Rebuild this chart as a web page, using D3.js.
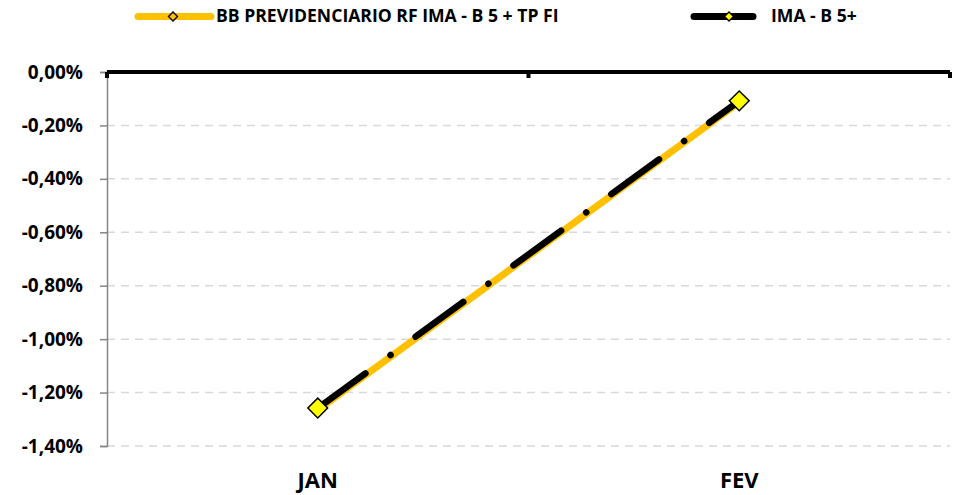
<!DOCTYPE html>
<meta charset="utf-8">
<script src="https://d3js.org/d3.v7.min.js"></script>
<style>
  body { margin: 0; background: #fff; }
  text { font-family: "Open Sans", sans-serif; font-weight: bold; fill: #000; }
</style>
<div id="chart"></div>
<script>
// data
var months = ["JAN", "FEV"];
var fundValues = [-1.265, -0.113];   // BB PREVIDENCIARIO RF IMA - B 5 + TP FI
var indexValues = [-1.258, -0.108];  // IMA - B 5+
var yTicks = [0, -0.2, -0.4, -0.6, -0.8, -1.0, -1.2, -1.4];
var seriesNames = ["BB PREVIDENCIARIO RF IMA - B 5 + TP FI", "IMA - B 5+"];

var W = 963, H = 495;
var margin = {top: 72, left: 107, right: 13, bottom: 49};
var width = W - margin.left - margin.right,
    height = H - margin.top - margin.bottom;

var svg = d3.select("#chart").append("svg")
    .attr("width", W).attr("height", H);
var g = svg.append("g")
    .attr("transform", "translate(" + margin.left + "," + margin.top + ")");

var x = d3.scaleBand().domain(months).range([0, width]);
var y = d3.scaleLinear().domain([-1.4, 0]).range([height, 0]);

var fmt = function(v){ return (v.toFixed(2) + "%").replace(".", ","); };

// gridlines
g.append("g").selectAll("line")
  .data(yTicks.filter(function(d){ return d !== 0; }))
  .enter().append("line")
    .attr("x1", 0).attr("x2", width)
    .attr("y1", function(d){ return y(d); })
    .attr("y2", function(d){ return y(d); })
    .attr("stroke", "#d9d9d9")
    .attr("stroke-width", 1.5)
    .attr("stroke-dasharray", "8,6");

// y axis
var yAxis = g.append("g")
  .call(d3.axisLeft(y).tickValues(yTicks).tickSize(7).tickFormat(fmt));
yAxis.select(".domain").attr("stroke", "#868686").attr("stroke-width", 1.5);
yAxis.selectAll(".tick line").attr("stroke", "#868686").attr("stroke-width", 1.5);
yAxis.selectAll(".tick text")
  .attr("x", -24)
  .style("font-size", "19px")
  .style("font-family", "'Open Sans', sans-serif")
  .style("font-weight", "bold");

// top zero line with category ticks
g.append("line")
  .attr("x1", 0).attr("x2", width)
  .attr("y1", y(0)).attr("y2", y(0))
  .attr("stroke", "#000").attr("stroke-width", 4);
g.append("g").selectAll("line")
  .data([0, x.bandwidth(), width])
  .enter().append("line")
    .attr("x1", function(d){ return d; }).attr("x2", function(d){ return d; })
    .attr("y1", y(0)).attr("y2", y(0) + 6)
    .attr("stroke", "#000").attr("stroke-width", 4);

// category labels
g.append("g").selectAll("text")
  .data(months)
  .enter().append("text")
    .attr("x", function(d){ return x(d) + x.bandwidth() / 2; })
    .attr("y", height + 42)
    .attr("text-anchor", "middle")
    .style("font-size", "22px")
    .text(function(d){ return d; });

var line = d3.line()
  .x(function(d, i){ return x(months[i]) + x.bandwidth() / 2; })
  .y(function(d){ return y(d); });

// fund series (yellow solid)
g.append("path")
  .datum(fundValues)
  .attr("d", line)
  .attr("fill", "none")
  .attr("stroke", "#ffc000")
  .attr("stroke-width", 7)
  .attr("stroke-linecap", "round");

// index series (black long-dash-dot)
g.append("path")
  .datum(indexValues)
  .attr("d", line)
  .attr("fill", "none")
  .attr("stroke", "#000")
  .attr("stroke-width", 6.5)
  .attr("stroke-linecap", "round")
  .attr("stroke-dasharray", "59,31,0.1,31");

// markers
g.append("g").selectAll("rect")
  .data(indexValues)
  .enter().append("rect")
    .attr("x", -7).attr("y", -7).attr("width", 14).attr("height", 14)
    .attr("transform", function(d, i){
      return "translate(" + (x(months[i]) + x.bandwidth() / 2) + "," + y(d) + ") rotate(45)";
    })
    .attr("fill", "#ffff00")
    .attr("stroke", "#000")
    .attr("stroke-width", 1.5);

// legend
var legend = svg.append("g");
var leg = [
  {x1: 138, x2: 211, mx: 173, tx: 216, color: "#ffc000", mfill: "#ffc000", name: seriesNames[0]},
  {x1: 694, x2: 753, mx: 729, tx: 771, color: "#000", mfill: "#ffff00", name: seriesNames[1]}
];
leg.forEach(function(l){
  legend.append("line")
    .attr("x1", l.x1).attr("x2", l.x2).attr("y1", 16.5).attr("y2", 16.5)
    .attr("stroke", l.color).attr("stroke-width", 7).attr("stroke-linecap", "round");
  legend.append("rect")
    .attr("x", -3.2).attr("y", -3.2).attr("width", 6.4).attr("height", 6.4)
    .attr("transform", "translate(" + l.mx + ",16.5) rotate(45)")
    .attr("fill", l.mfill).attr("stroke", "#000").attr("stroke-width", 1.3);
  legend.append("text")
    .attr("x", l.tx).attr("y", 22)
    .style("font-size", "17.6px")
    .text(l.name);
});
</script>
